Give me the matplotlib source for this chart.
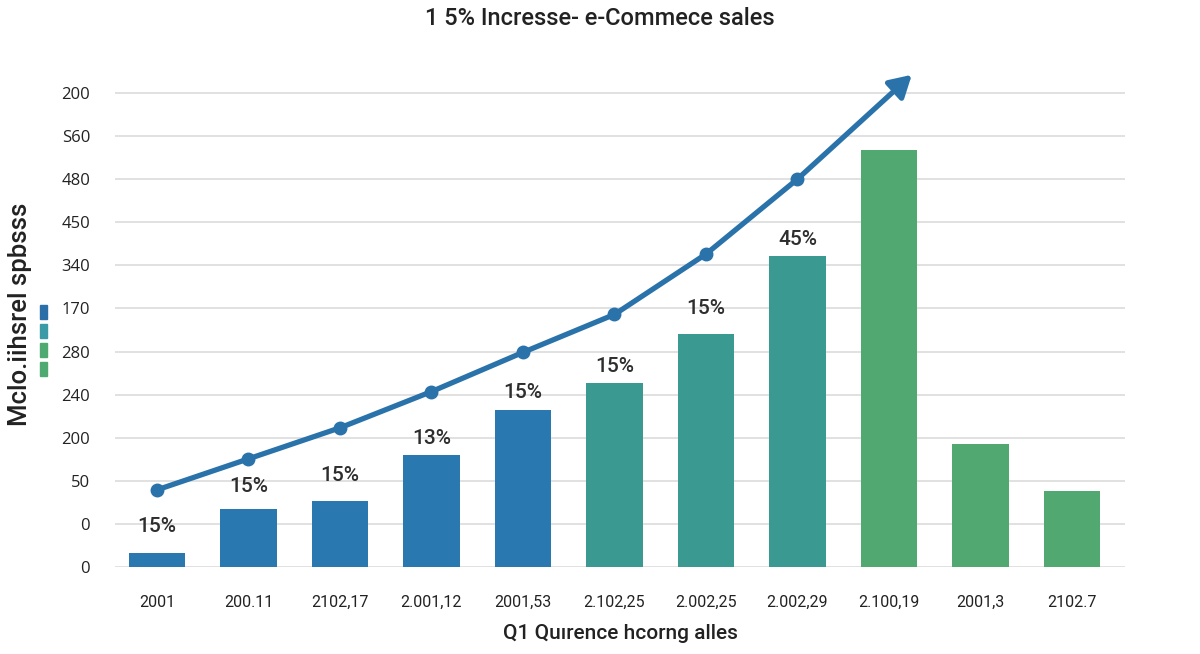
import matplotlib
matplotlib.use("Agg")
import matplotlib.pyplot as plt
from matplotlib.patches import Rectangle

# chart data (y in grid units: one unit per gridline)
x_labels = ["2001", "200.11", "2102,17", "2.001,12", "2001,53", "2.102,25",
            "2.002,25", "2.002,29", "2.100,19", "2001,3", "2102.7"]
bar_values = [0.32, 1.35, 1.53, 2.60, 3.64, 4.27, 5.41, 7.22, 9.68, 2.85, 1.76]
bar_colors = ["#2a78b0"] * 5 + ["#3a9990"] * 3 + ["#52a871"] * 3

line_values = [1.79, 2.51, 3.23, 4.07, 4.98, 5.86, 7.26, 9.00]
arrow_tip = (8.25, 11.42)

pct_labels = ["15%", "15%", "15%", "13%", "15%", "15%", "15%", "45%"]
pct_y = [0.93, 1.86, 2.13, 2.99, 4.06, 4.66, 5.99, 7.61]

y_tick_labels = ["0", "0", "50", "200", "240", "280", "170", "340",
                 "450", "480", "S60", "200"]

plt.rcParams["font.family"] = ["Open Sans", "DejaVu Sans"]

fig = plt.figure(figsize=(12, 6.54), dpi=100)
ax = fig.add_axes([115 / 1200, 0.133, 1010 / 1200, 0.7645])

xs = list(range(len(bar_values)))
ax.bar(xs, bar_values, width=0.62, color=bar_colors, zorder=2)

line_x = list(range(len(line_values)))
line_color = "#2a72aa"
ax.plot(line_x, line_values, color=line_color, lw=3.8, marker="o",
        markersize=9, zorder=4, solid_capstyle="round")
ax.annotate("", xy=arrow_tip, xytext=(line_x[-1], line_values[-1]),
            arrowprops=dict(arrowstyle="-|>,head_length=1.3,head_width=0.75",
                            color=line_color, lw=3.8, shrinkA=0, shrinkB=0),
            zorder=4)

for i, (lab, y) in enumerate(zip(pct_labels, pct_y)):
    ax.text(i, y, lab, ha="center", va="center", fontsize=15,
            fontweight="medium", family="Roboto", color="#2e2e2e", zorder=5)

ax.set_xlim(-0.459, 10.58)
ax.set_ylim(0, 11.6)
ax.set_yticks(range(len(y_tick_labels)))
ax.set_yticklabels(y_tick_labels, fontsize=12, color="#222222")
ax.set_xticks(xs)
ax.set_xticklabels(x_labels, fontsize=11.5, color="#222222", family="Roboto")
ax.tick_params(length=0)
ax.tick_params(axis="y", pad=18)
ax.tick_params(axis="x", pad=20)
ax.grid(axis="y", color="#dcdcdc", lw=1.2, zorder=0)
for s in ax.spines.values():
    s.set_visible(False)

ax.set_xlabel("Q1 Quırence hcorng alles", fontsize=15, fontweight="medium",
              color="#222222", labelpad=10, family="Roboto")
fig.text(0.017, 0.52, "Mclo.iihsrel spbsss", rotation=90, ha="center",
         va="center", fontsize=18.5, fontweight="medium", family="Roboto",
         color="#222222")
fig.text(0.5, 0.972, "1 5% Incresse- e-Commece sales", ha="center", va="center",
         fontsize=17, fontweight="medium", color="#222222", family="Roboto")

# small colour key next to the y label
key_colors = ["#2a6fa8", "#3a9aa5", "#4eaa70", "#4eaa70"]
for k, c in enumerate(key_colors):
    top = 305 + k * 19
    fig.add_artist(Rectangle((40 / 1200, 1 - (top + 14) / 654), 7 / 1200, 14 / 654,
                             transform=fig.transFigure, color=c))

fig.savefig("out.png", dpi=100)
